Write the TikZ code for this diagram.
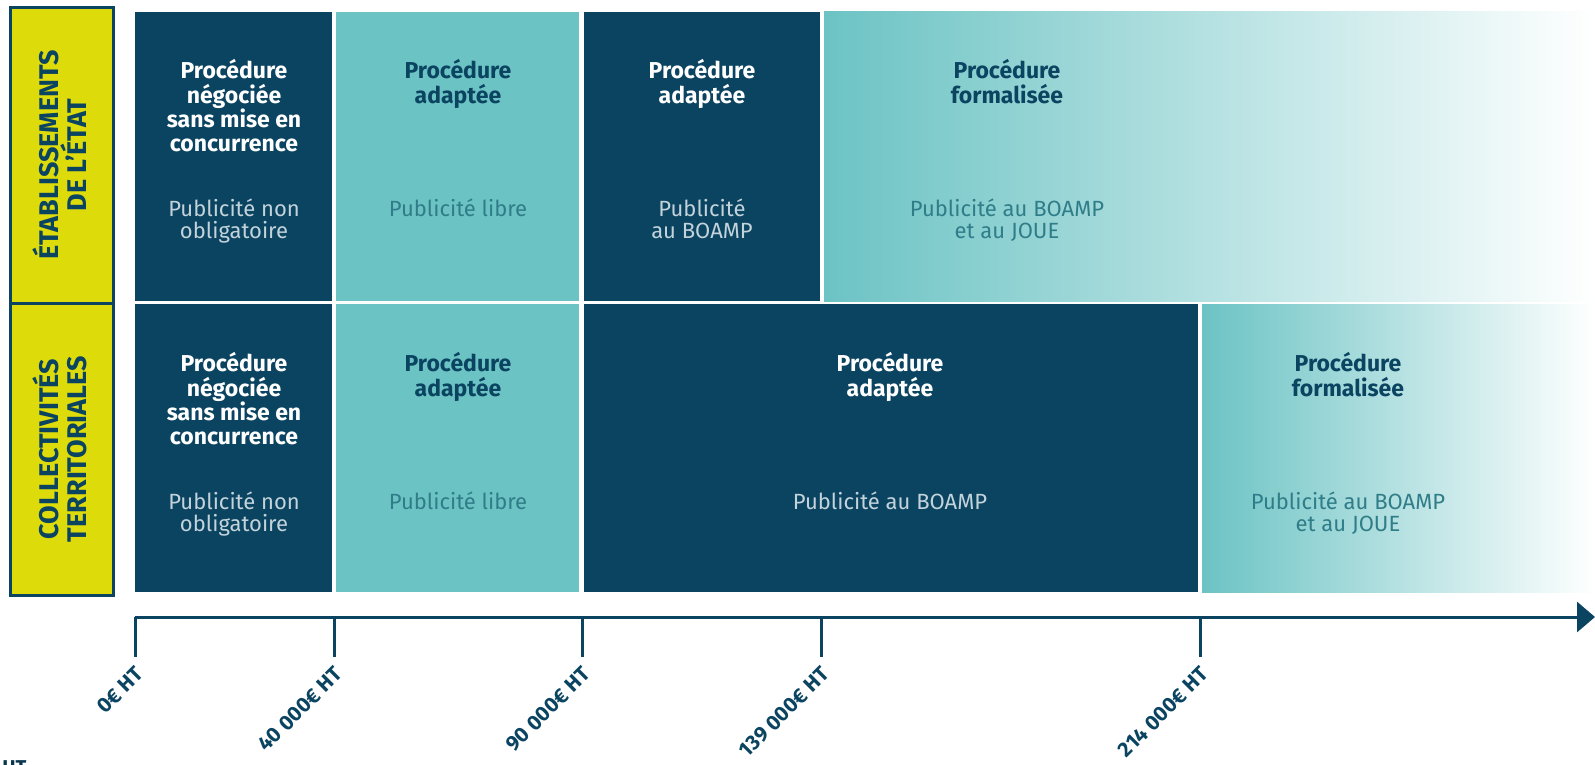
\documentclass[tikz,border=0pt]{standalone}
\usepackage{fontspec}
\setmainfont{Fira Sans}
\usetikzlibrary{arrows.meta}
\definecolor{navy}{HTML}{0B4461}
\definecolor{lagoon}{HTML}{6CC3C4}
\definecolor{citron}{HTML}{DEDB0B}
\definecolor{mist}{HTML}{C3D3DB}
\definecolor{deepteal}{HTML}{2F7D88}
\begin{document}
\begin{tikzpicture}
[x=0.5pt,y=-0.5pt,
  darkblock/.style={fill=navy},%
  lightblock/.style={fill=lagoon},%
  fadeblock/.style={left color=lagoon,right color=white},%
  labelbox/.style={fill=citron,draw=navy,line width=1.5pt},%
  rowlabel/.style={rotate=90,align=center,text=navy,inner sep=0pt,
    font=\fontsize{13.5}{14}\selectfont\bfseries},%
  darktitle/.style={anchor=north,align=center,text=white,inner sep=0pt,
    font=\fontsize{11.5}{12.2}\selectfont\bfseries},%
  lighttitle/.style={darktitle,text=navy},%
  darknote/.style={anchor=north,align=center,text=mist,inner sep=0pt,
    font=\fontsize{11}{11.4}\selectfont},%
  lightnote/.style={darknote,text=deepteal},%
  axisline/.style={draw=navy,line width=1.5pt},%
  ticklabel/.style={rotate=45,anchor=north east,text=navy,inner sep=0pt,
    font=\fontsize{10.5}{12}\selectfont\bfseries}]
\useasboundingbox (0,0) rectangle (1595,765);
%% row labels
\draw[labelbox] (10,8) rectangle (113,303);
\draw[labelbox] (10,303) rectangle (113,595);
\node[rowlabel] (etat) at (60,155) {ÉTABLISSEMENTS\\DE L’ÉTAT};
\node[rowlabel] (coll) at (60,449) {COLLECTIVITÉS\\TERRITORIALES};
%% blocks
\foreach \kind/\xa/\ya/\xb/\yb in {
  dark/135/12/332/301, light/336/12/579/301, dark/584/12/820/301,
  dark/135/304/332/592, light/336/304/579/592, dark/584/304/1198/592}
{
  \fill[\kind block] (\xa,\ya) rectangle (\xb,\yb);
}
\shade[fadeblock] (824,12) rectangle (1595,301);
\shade[fadeblock] (1202,304) rectangle (1595,592);
%% row 1 texts
\node[darktitle] (p11) at (234,59) {Procédure\\négociée\\sans mise en\\concurrence};
\node[darknote] (n11) at (234,198) {Publicité non\\obligatoire};
\node[lighttitle] (p12) at (458,59) {Procédure\\adaptée};
\node[lightnote] (n12) at (458,198) {Publicité libre};
\node[darktitle] (p13) at (702,59) {Procédure\\adaptée};
\node[darknote] (n13) at (702,198) {Publicité\\au BOAMP};
\node[lighttitle] (p14) at (1007,59) {Procédure\\formalisée};
\node[lightnote] (n14) at (1007,198) {Publicité au BOAMP\\et au JOUE};
%% row 2 texts
\node[darktitle] (p21) at (234,352) {Procédure\\négociée\\sans mise en\\concurrence};
\node[darknote] (n21) at (234,491) {Publicité non\\obligatoire};
\node[lighttitle] (p22) at (458,352) {Procédure\\adaptée};
\node[lightnote] (n22) at (458,491) {Publicité libre};
\node[darktitle] (p23) at (890,352) {Procédure\\adaptée};
\node[darknote] (n23) at (890,491) {Publicité au BOAMP};
\node[lighttitle] (p24) at (1348,352) {Procédure\\formalisée};
\node[lightnote] (n24) at (1348,491) {Publicité au BOAMP\\et au JOUE};
%% axis
\coordinate (axstart) at (135,617);
\coordinate (axend) at (1595,617);
\draw[axisline,-{Triangle[length=9pt,width=15pt]}] (axstart) -- (axend);
\foreach \tickname/\x/\amount in {
  t0/135/0€ HT, t1/334/40 000€ HT, t2/582/90 000€ HT,
  t3/821/139 000€ HT, t4/1200/214 000€ HT}
{
  \draw[axisline] (\x,617) -- (\x,657);
  \node[ticklabel] (\tickname) at (\x-1,665) {\amount};
}
\node[anchor=north west,inner sep=0pt,text=navy!80!black,
  font=\fontsize{10}{12}\selectfont\bfseries] (cut) at (2,760) {HT};
\end{tikzpicture}
\end{document}
